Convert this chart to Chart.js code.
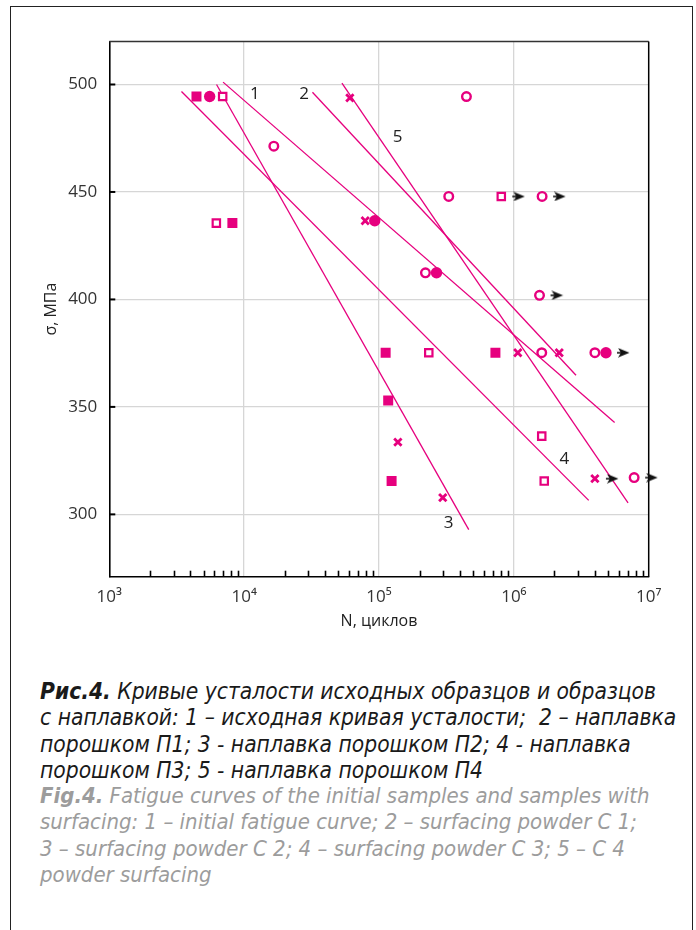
<!DOCTYPE html>
<html>
<head>
<meta charset="utf-8">
<script src="https://cdn.jsdelivr.net/npm/chart.js@4.4.1/dist/chart.umd.min.js"></script>
<style>
  html, body { margin: 0; padding: 0; background: #fff; }
  body { width: 696px; height: 930px; position: relative; overflow: hidden; }
  #frame { position: absolute; left: 10px; top: 6px; width: 681px; height: 960px; border: 1.5px solid #222; }
  #plot { position: absolute; left: 0; top: 0; }
  #caption {
    position: absolute; left: 40px; top: 678px;
    font-family: "Liberation Sans Narrow", "DejaVu Sans Condensed", "Noto Sans", sans-serif;
    font-style: italic; font-size: 22.6px; line-height: 26.3px; white-space: nowrap;
  }
  .ru { color: #1a1a1a; }
  .en { color: #9c9c9c; font-size: 22px; }
  #caption b { font-weight: bold; }
</style>
</head>
<body>
<div id="frame"></div>
<canvas id="plot" width="696" height="650"></canvas>
<div id="caption">
  <div class="ru"><b>Рис.4.</b> Кривые усталости исходных образцов и образцов</div>
  <div class="ru">с наплавкой: 1 – исходная кривая усталости;&nbsp; 2 – наплавка</div>
  <div class="ru">порошком П1; 3 - наплавка порошком П2; 4 - наплавка</div>
  <div class="ru">порошком П3; 5 - наплавка порошком П4</div>
  <div class="en"><b>Fig.4.</b> Fatigue curves of the initial samples and samples with</div>
  <div class="en">surfacing: 1 – initial fatigue curve; 2 – surfacing powder C 1;</div>
  <div class="en">3 – surfacing powder C 2; 4 – surfacing powder C 3; 5 – C 4</div>
  <div class="en">powder surfacing</div>
</div>
<script>
const pink = '#e6007e';

// оси
const xTicks = [1e3, 1e4, 1e5, 1e6, 1e7];
const yTicks = [300, 350, 400, 450, 500];

// экспериментальные точки (N, σ)
const sqFilledN = [4430, 8180, 112000, 117000, 124000, 730000];
const sqFilledS = [494.4, 435.5, 375.2, 353.0, 315.5, 375.2];
const ciFilledN = [5550, 93000, 267000, 4820000];
const ciFilledS = [494.4, 436.6, 412.4, 375.2];
const sqOpenN = [6930, 6220, 234000, 807000, 1610000, 1680000];
const sqOpenS = [494.4, 435.5, 375.2, 447.9, 336.4, 315.5];
const ciOpenN = [16600, 445000, 329000, 1620000, 221000, 1550000, 1610000, 3990000, 7800000];
const ciOpenS = [471.3, 494.4, 447.9, 447.9, 412.4, 401.9, 375.2, 375.2, 317.1];
const crossN = [60800, 79000, 138000, 297000, 1070000, 2170000, 3990000];
const crossS = [493.8, 436.6, 333.6, 307.8, 375.2, 375.2, 316.6];

// образцы без разрушения (стрелки)
const runoutN = [807000, 1620000, 1550000, 4820000, 3990000, 7800000];
const runoutS = [447.9, 447.9, 401.9, 375.2, 316.6, 317.1];

// кривые усталости 1..5 (концы отрезков)
const curveNames = ['1', '2', '3', '4', '5'];
const curveN = [[6977, 5.59e6], [3.21e4, 2.89e6], [6240, 4.63e5], [3430, 3.59e6], [5.31e4, 7.03e6]];
const curveS = [[501.1, 342.7], [496.4, 364.7], [500.0, 292.9], [496.7, 306.5], [500.6, 305.4]];
const labelN = [1.2e4, 2.78e4, 3.28e5, 2.37e6, 1.373e5];
const labelS = [495.3, 495.3, 296.1, 325.9, 475.3];

const pts = (ns, ss) => ns.map((n, i) => ({ x: n, y: ss[i] }));

function makeArrow() {
  const c = document.createElement('canvas');
  c.width = 48; c.height = 10;
  const g = c.getContext('2d');
  g.strokeStyle = '#111'; g.fillStyle = '#111'; g.lineWidth = 1.6;
  g.beginPath(); g.moveTo(35, 5); g.lineTo(40, 5); g.stroke();
  g.beginPath();
  g.moveTo(47.5, 5); g.lineTo(36, 0.3); g.lineTo(39, 5); g.lineTo(36, 9.7);
  g.closePath(); g.fill();
  return c;
}

const markers = [
  { label: 'sqFilled', data: pts(sqFilledN, sqFilledS), pointStyle: 'rect', pointRadius: 7.07,
    backgroundColor: pink, borderColor: pink, borderWidth: 0 },
  { label: 'ciFilled', data: pts(ciFilledN, ciFilledS), pointStyle: 'circle', pointRadius: 5.7,
    backgroundColor: pink, borderColor: pink, borderWidth: 0 },
  { label: 'sqOpen', data: pts(sqOpenN, sqOpenS), pointStyle: 'rect', pointRadius: 5.2,
    backgroundColor: '#fff', borderColor: pink, borderWidth: 2.2 },
  { label: 'ciOpen', data: pts(ciOpenN, ciOpenS), pointStyle: 'circle', pointRadius: 4.3,
    backgroundColor: '#fff', borderColor: pink, borderWidth: 2.4 },
  { label: 'cross', data: pts(crossN, crossS), pointStyle: 'crossRot', pointRadius: 5.2,
    backgroundColor: pink, borderColor: pink, borderWidth: 2.8 },
].map(d => Object.assign(d, { showLine: false, order: 1, pointHoverRadius: d.pointRadius }));

const arrowImg = makeArrow();
const arrows = {
  label: 'runout', data: pts(runoutN, runoutS), pointStyle: arrowImg,
  showLine: false, order: 2, pointRadius: 5, clip: false
};

const curves = curveNames.map((name, i) => ({
  label: name, data: pts(curveN[i], curveS[i]), showLine: true, pointRadius: 0,
  borderColor: pink, borderWidth: 1.3, order: 10
}));

const decor = {
  id: 'decor',
  beforeDatasetsDraw(chart) {
    const { ctx, chartArea: a, scales: { x, y } } = chart;
    ctx.save();
    ctx.strokeStyle = '#000';
    // малые деления по N
    ctx.lineWidth = 1.6;
    for (let k = 3; k < 7; k++) {
      for (let m = 2; m <= 9; m++) {
        const px = Math.round(x.getPixelForValue(m * Math.pow(10, k))) + 0.5;
        ctx.beginPath(); ctx.moveTo(px, a.bottom); ctx.lineTo(px, a.bottom - 6); ctx.stroke();
      }
    }
    // деления по σ внутрь
    ctx.lineWidth = 2;
    yTicks.forEach(v => {
      const py = y.getPixelForValue(v);
      ctx.beginPath(); ctx.moveTo(a.left, py); ctx.lineTo(a.left + 6, py); ctx.stroke();
    });
    // верх и правая рамка
    ctx.lineWidth = 1.5;
    ctx.strokeStyle = '#333';
    ctx.beginPath(); ctx.moveTo(a.left, a.top); ctx.lineTo(a.right, a.top); ctx.stroke();
    ctx.strokeStyle = '#000';
    ctx.beginPath(); ctx.moveTo(a.right, a.top); ctx.lineTo(a.right, a.bottom); ctx.stroke();
    ctx.restore();
  },
  afterDatasetsDraw(chart) {
    const { ctx, scales: { x, y } } = chart;
    ctx.save();
    ctx.fillStyle = '#222';
    ctx.font = '17px "Open Sans", "DejaVu Sans", sans-serif';
    ctx.textAlign = 'center';
    ctx.textBaseline = 'middle';
    curveNames.forEach((name, i) => {
      ctx.fillText(name, x.getPixelForValue(labelN[i]), y.getPixelForValue(labelS[i]));
    });
    ctx.restore();
  }
};

const sup = { 3: '³', 4: '⁴', 5: '⁵', 6: '⁶', 7: '⁷' };

new Chart(document.getElementById('plot'), {
  type: 'scatter',
  data: { datasets: [...markers, arrows, ...curves] },
  options: {
    responsive: false,
    animation: false,
    devicePixelRatio: 1,
    layout: { padding: { left: 0, right: 47.3, top: 41.5, bottom: 0 } },
    plugins: { legend: { display: false }, tooltip: { enabled: false } },
    scales: {
      x: {
        type: 'logarithmic',
        min: 1e3, max: 1e7,
        afterBuildTicks: s => { s.ticks = xTicks.map(v => ({ value: v, major: true })); },
        afterFit: s => { s.height = 73.3; },
        ticks: {
          color: '#333', padding: 10, maxRotation: 0, autoSkip: false,
          font: { family: '"Open Sans", "DejaVu Sans", sans-serif', size: 17 },
          callback: v => '10' + sup[Math.round(Math.log10(v))]
        },
        grid: {
          drawTicks: false, lineWidth: 1.3,
          color: c => (c.tick && (c.tick.value === 1e3 || c.tick.value === 1e7)) ? 'rgba(0,0,0,0)' : '#d6d6d6'
        },
        border: { color: '#000', width: 1.6 },
        title: {
          display: true, text: 'N, циклов', color: '#222',
          font: { family: '"Open Sans", "DejaVu Sans", sans-serif', size: 16 },
          padding: { top: 0, bottom: 19 }
        }
      },
      y: {
        min: 271, max: 520,
        afterBuildTicks: s => { s.ticks = yTicks.map(v => ({ value: v })); },
        afterFit: s => { s.width = 109.3; },
        ticks: {
          color: '#333', padding: 12,
          font: { family: '"Open Sans", "DejaVu Sans", sans-serif', size: 17 }
        },
        grid: { drawTicks: false, lineWidth: 1.3, color: '#d6d6d6' },
        border: { color: '#000', width: 1.6 },
        title: {
          display: true, text: 'σ, МПа', color: '#222',
          font: { family: '"Open Sans", "DejaVu Sans", sans-serif', size: 16 },
          padding: { top: 42, bottom: 0 }
        }
      }
    }
  },
  plugins: [decor]
});
</script>
</body>
</html>
